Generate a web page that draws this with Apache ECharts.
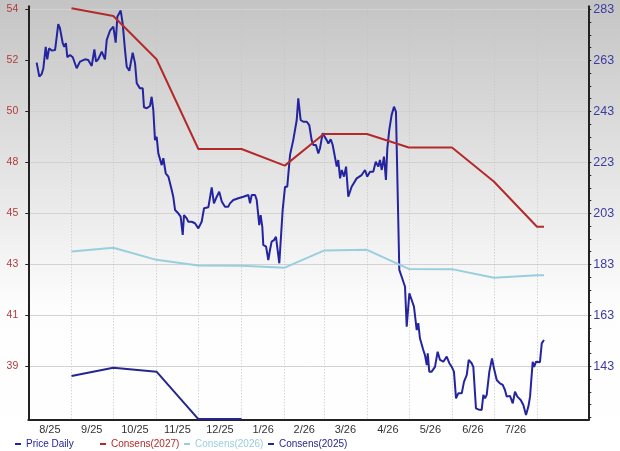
<!DOCTYPE html>
<html><head><meta charset="utf-8">
<script src="https://cdn.jsdelivr.net/npm/echarts@6/dist/echarts.min.js"></script>
<style>html,body{margin:0;padding:0;background:#fff}#c{width:620px;height:451px}</style>
</head><body><div id="c"></div>
<script>
// x values are days since 2025-08-01
const monthStartDays = [31,61,92,122,153,184,212,243,273,304,334,365];
const monthLabelDays = [15.5,45.5,76.5,107,137.5,168.5,198,227.5,258,288.5,319,349.5];
const monthLabels = ['8/25','9/25','10/25','11/25','12/25','1/26','2/26','3/26','4/26','5/26','6/26','7/26'];

const priceDay = [6.0,7.9,9.6,10.8,12.5,13.6,14.9,16.8,19.2,21.5,
22.7,24.7,25.8,27.0,28.0,29.9,31.9,34.7,37.1,40.7,
43.0,45.5,47.4,48.6,50.2,52.7,55.0,56.3,58.6,61.0,
62.7,63.9,66.3,67.7,69.4,70.6,72.5,73.7,74.9,76.6,
77.8,80.1,82.1,83.0,85.0,87.3,88.5,89.7,90.9,92.1,
93.3,95.7,96.9,98.6,100.5,102.9,104.0,105.3,107.6,109.3,
110.8,111.7,113.7,114.8,117.2,119.6,122.0,124.4,126.1,129.2,
130.4,131.6,133.2,135.2,137.0,138.8,141.1,143.5,144.7,147.1,
150.7,154.3,157.9,159.1,160.3,162.7,163.9,165.0,165.7,166.7,
167.9,168.6,170.6,172.2,173.4,174.6,176.3,177.7,178.9,180.1,
181.1,182.5,184.2,185.8,187.8,190.1,192.6,193.7,195.4,197.3,
199.8,201.6,203.3,204.5,206.4,208.1,209.3,211.2,214.1,215.3,
217.0,218.4,219.6,221.3,222.4,223.7,224.9,226.5,228.0,229.6,
232.0,235.6,239.2,241.6,243.2,245.2,247.5,249.3,251.1,252.3,
253.6,255.2,256.6,257.6,259.0,260.7,262.4,263.8,265.0,266.2,
267.9,270.3,271.5,273.4,275.1,276.7,278.7,279.8,281.0,283.4,
284.6,285.9,286.6,287.7,289.4,291.8,293.7,295.4,297.8,300.2,
302.1,303.8,305.4,306.9,308.5,311.0,312.6,314.6,316.0,318.1,
319.3,321.2,322.9,325.3,326.5,327.7,328.9,330.8,332.7,334.1,
336.1,338.4,340.4,342.0,343.3,345.6,347.6,349.2,350.9,353.3,
355.2,357.1,358.8,360.0,361.9,362.9,364.3,367.1,368.4,370.0];

const priceValue = [262.1,256.6,257.6,259.9,268.3,263.4,267.7,266.8,267.0,277.2,
275.6,269.7,268.3,269.7,264.2,265.1,264.2,259.9,262.5,263.4,
263.1,260.8,267.3,262.5,263.4,266.4,263.4,271.0,274.6,276.2,
269.9,280.1,282.5,277.5,267.0,260.5,258.9,259.2,266.0,261.8,
254.0,252.0,252.0,244.6,244.2,245.1,248.7,243.5,231.7,233.0,
226.5,221.9,224.6,218.7,217.4,212.1,209.5,204.3,203.0,201.7,
194.5,202.3,201.0,199.7,199.7,199.1,197.1,199.7,205.0,205.4,
205.6,213.2,206.9,209.5,211.5,207.6,205.6,205.6,206.9,208.2,
208.9,209.5,210.2,206.9,210.2,210.2,208.2,202.3,198.4,202.3,
197.7,190.6,189.9,184.7,188.6,191.9,192.5,193.8,193.2,183.4,
182.7,204.3,213.4,213.4,225.9,231.7,239.6,248.1,239.6,238.9,
238.9,237.6,231.7,229.8,229.8,226.5,228.5,234.4,231.7,230.4,
232.0,229.8,229.1,221.3,223.9,216.7,220.0,217.4,221.3,209.5,
213.4,216.7,218.0,220.0,217.4,219.3,219.3,223.2,221.3,223.9,
220.0,225.2,216.1,228.5,235.7,241.6,244.8,242.8,242.4,180.8,
178.1,174.2,158.5,171.6,169.0,166.4,157.2,159.9,154.0,149.4,
147.4,143.5,148.1,140.9,140.9,142.8,148.7,145.5,144.8,146.8,
144.2,142.8,140.9,130.4,132.4,132.4,136.9,139.6,145.5,144.2,
142.8,126.5,126.1,125.9,131.8,130.4,131.8,140.9,146.1,142.2,
137.6,136.3,135.7,133.7,131.1,131.4,128.5,133.0,131.1,129.8,
127.8,123.9,127.2,131.1,144.8,142.8,144.8,144.6,152.0,153.3];

const consensusDays = [31,61,92,122,153,184,212,243,273,304,334,365,370];
const cons2027 = [54.04,53.72,51.90,48.13,48.13,47.43,48.76,48.76,48.19,48.19,46.76,44.86,44.86];
const cons2026 = [43.82,43.98,43.47,43.23,43.22,43.14,43.86,43.89,43.09,43.08,42.72,42.82,42.82];
const cons2025Days = [31,61,92,122,153];
const cons2025 = [38.59,38.94,38.77,36.78,36.78];

const leftTicks = [39,41.1429,43.2857,45.4286,47.5714,49.7143,51.8571,54];
const leftTickLabels = ['39','41','43','45','48','50','52','54'];
const rightLabelTicks = [143,163,183,203,223,243,263,283];
const rightTicks = [123,128,133,138,143,148,153,158,163,168,173,178,183,188,193,198,203,208,213,218,223,228,233,238,243,248,253,258,263,268,273,278,283];

const seriesNames = ['Price Daily', 'Consens(2027)', 'Consens(2026)', 'Consens(2025)'];
const C_PRICE = '#2424a0', C_27 = '#b42a2a', C_26 = '#98cedd', C_25 = '#26268c';
const seriesColors = [C_PRICE, C_27, C_26, C_25];
const legendLefts = [10, 95, 179, 263];
const FONT = 'Liberation Sans, Arial, sans-serif';

const chart = echarts.init(document.getElementById('c'));
chart.setOption({
  animation: false,
  backgroundColor: new echarts.graphic.LinearGradient(0, 0, 0, 1, [
    {offset: 0, color: '#c4c4c4'}, {offset: 0.68, color: '#fdfdfd'}, {offset: 1, color: '#ffffff'}]),
  textStyle: {fontFamily: FONT},
  grid: {left: 28.3, right: 31.7, top: 6.3, bottom: 31, containLabel: false},
  legend: seriesNames.map((n, i) => ({
    left: legendLefts[i], top: 434, itemWidth: 6, itemHeight: 2, icon: 'rect',
    textStyle: {fontSize: 10, fontFamily: FONT, color: seriesColors[i]},
    data: [n]
  })),
  xAxis: {
    type: 'value', min: 0, max: 401.8,
    axisLine: {show: true, onZero: false, lineStyle: {color: '#222', width: 2}},
    axisTick: {show: false, customValues: monthStartDays},
    axisLabel: {
      customValues: monthLabelDays, color: '#333', fontSize: 11, margin: 4,
      formatter: function (v) { const i = monthLabelDays.indexOf(v); return i >= 0 ? monthLabels[i] : ''; }
    },
    splitLine: {show: true, lineStyle: {color: '#c4c4c4', width: 1, type: [1, 2]}}
  },
  yAxis: [{
    type: 'value', position: 'left', min: 36.74, max: 54.125,
    axisLine: {show: true, lineStyle: {color: '#222', width: 2}},
    axisTick: {show: true, customValues: leftTicks, length: 3, lineStyle: {color: '#222'}},
    axisLabel: {
      customValues: leftTicks, color: '#b23a3a', fontSize: 10.5, margin: 10,
      formatter: function (v) { const i = leftTicks.indexOf(v); return i >= 0 ? leftTickLabels[i] : ''; }
    },
    splitLine: {show: true, lineStyle: {color: '#d2d2d2', width: 1}}
  }, {
    type: 'value', position: 'right', min: 121.94, max: 284.18,
    axisLine: {show: true, lineStyle: {color: '#222', width: 2}},
    axisTick: {show: true, customValues: rightTicks, length: 3, lineStyle: {color: '#222'}},
    axisLabel: {customValues: rightLabelTicks, color: '#3c3ca0', fontSize: 12.5, margin: 5},
    splitLine: {show: false}
  }],
  series: [{
    name: seriesNames[0], type: 'line', yAxisIndex: 1, symbol: 'none',
    lineStyle: {color: C_PRICE, width: 2}, itemStyle: {color: C_PRICE},
    data: priceDay.map((d, i) => [d, priceValue[i]])
  }, {
    name: seriesNames[1], type: 'line', yAxisIndex: 0, symbol: 'none',
    lineStyle: {color: C_27, width: 2}, itemStyle: {color: C_27},
    data: consensusDays.map((d, i) => [d, cons2027[i]])
  }, {
    name: seriesNames[2], type: 'line', yAxisIndex: 0, symbol: 'none',
    lineStyle: {color: C_26, width: 2}, itemStyle: {color: C_26},
    data: consensusDays.map((d, i) => [d, cons2026[i]])
  }, {
    name: seriesNames[3], type: 'line', yAxisIndex: 0, symbol: 'none',
    lineStyle: {color: C_25, width: 2}, itemStyle: {color: C_25},
    data: cons2025Days.map((d, i) => [d, cons2025[i]])
  }]
});
</script></body></html>
